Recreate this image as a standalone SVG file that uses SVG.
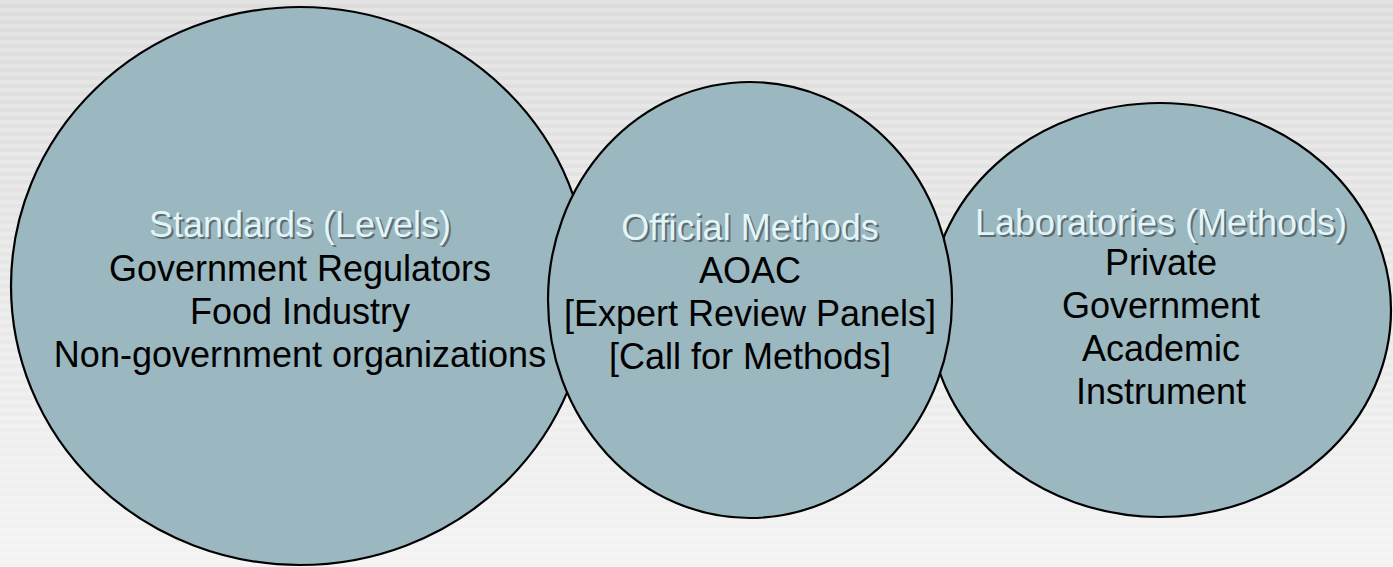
<svg xmlns="http://www.w3.org/2000/svg" width="1393" height="567" viewBox="0 0 1393 567">
  <defs>
    <linearGradient id="bg" x1="0" y1="0" x2="0" y2="1">
      <stop offset="0" stop-color="#dcdcdc"/>
      <stop offset="1" stop-color="#f3f3f3"/>
    </linearGradient>
    <pattern id="stripes" width="8" height="8" patternUnits="userSpaceOnUse">
      <rect width="8" height="4" fill="#ffffff" fill-opacity="0.2"/>
    </pattern>
  </defs>
  <style>
    .disc { fill: #9bb7bf; stroke: #000; stroke-width: 2.2; }
    text { font-family: "Liberation Sans", Arial, sans-serif; font-size: 36px; text-anchor: middle; }
    .body { fill: #000; }
    .head { fill: #e2f5f9; }
    .shade { fill: #5e6c71; }
  </style>

  <!-- striped backdrop -->
  <rect width="1393" height="567" fill="url(#bg)"/>
  <rect width="1393" height="567" fill="url(#stripes)"/>

  <!-- discs: the middle one sits on top of its neighbours -->
  <g id="standards">
    <ellipse class="disc" cx="300" cy="286" rx="289" ry="279"/>
  </g>
  <g id="laboratories">
    <ellipse class="disc" cx="1160" cy="310" rx="231" ry="207"/>
  </g>
  <g id="official-methods">
    <ellipse class="disc" cx="750" cy="300" rx="202" ry="218"/>
  </g>

  <!-- labels -->
  <g id="standards-text">
    <text class="shade" x="302" y="239">Standards (Levels)</text>
    <text class="head" x="300" y="237">Standards (Levels)</text>
    <text class="body" x="300" y="281">Government Regulators</text>
    <text class="body" x="300" y="324">Food Industry</text>
    <text class="body" x="300" y="367">Non-government organizations</text>
  </g>
  <g id="official-methods-text">
    <text class="shade" x="752" y="242">Official Methods</text>
    <text class="head" x="750" y="240">Official Methods</text>
    <text class="body" x="750" y="283">AOAC</text>
    <text class="body" x="750" y="326">[Expert Review Panels]</text>
    <text class="body" x="750" y="369">[Call for Methods]</text>
  </g>
  <g id="laboratories-text">
    <text class="shade" x="1163" y="237">Laboratories (Methods)</text>
    <text class="head" x="1161" y="235">Laboratories (Methods)</text>
    <text class="body" x="1161" y="275">Private</text>
    <text class="body" x="1161" y="318">Government</text>
    <text class="body" x="1161" y="361">Academic</text>
    <text class="body" x="1161" y="404">Instrument</text>
  </g>
</svg>
